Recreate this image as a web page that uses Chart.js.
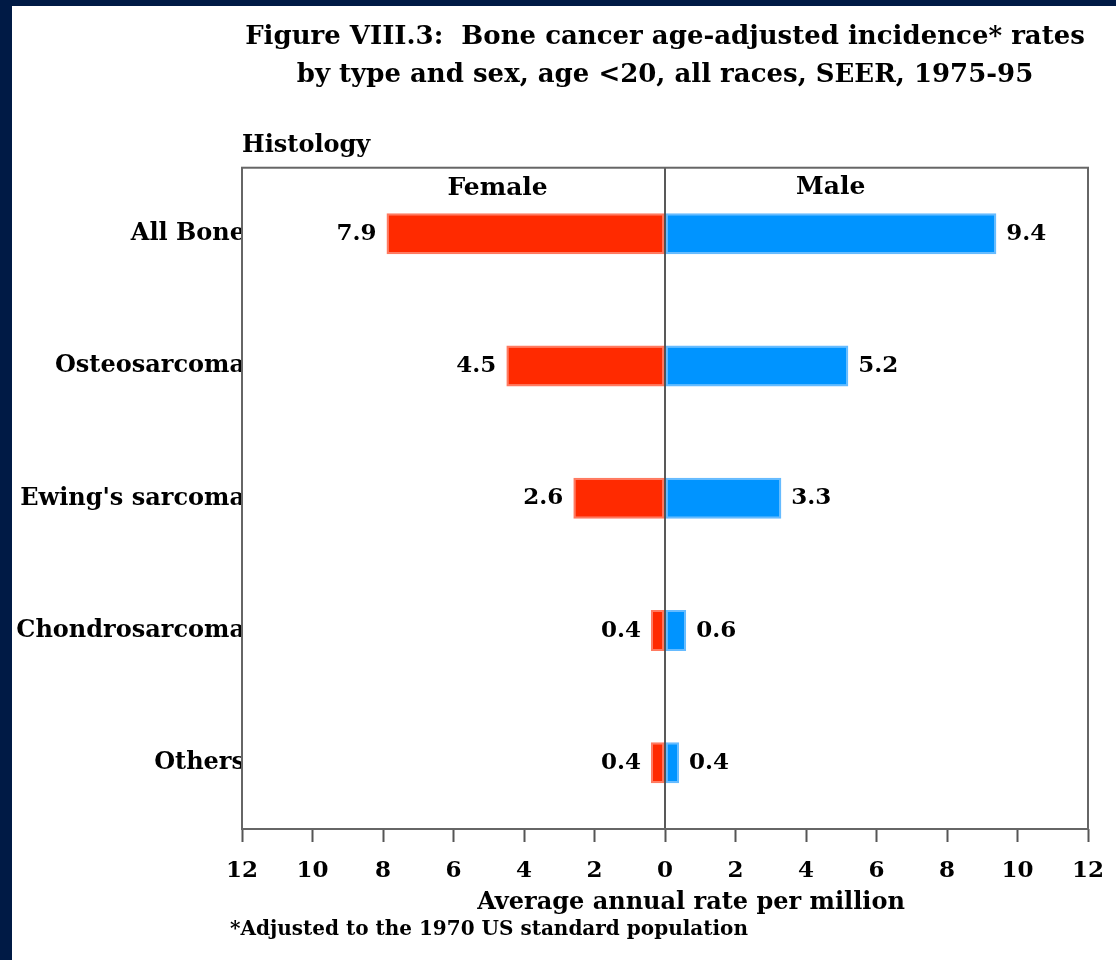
<!DOCTYPE html>
<html>
<head>
<meta charset="utf-8">
<script src="https://cdn.jsdelivr.net/npm/chart.js@4.4.0/dist/chart.umd.min.js"></script>
<style>
    body { margin: 0; background: #001a45; width: 1116px; height: 960px; overflow: hidden; }
    #wrap { position: absolute; left: 12px; top: 6px; width: 1104px; height: 954px; background: #fff; }
</style>
</head>
<body>
<div id="wrap"><canvas id="boneChart"></canvas></div>
<script>
// Data
const categories = ['All Bone', 'Osteosarcoma', "Ewing's sarcoma", 'Chondrosarcoma', 'Others'];
const femaleRates = [7.9, 4.5, 2.6, 0.4, 0.4];
const maleRates = [9.4, 5.2, 3.3, 0.6, 0.4];
const xTicks = [-12, -10, -8, -6, -4, -2, 0, 2, 4, 6, 8, 10, 12];

const FONT = "'DejaVu Serif', serif";

// Frame, sex headings, value labels, axis title and footnote
const decorPlugin = {
    id: 'decor',
    afterDatasetsDraw(chart) {
        const ctx = chart.ctx;
        const area = chart.chartArea;
        const xs = chart.scales.x;
        ctx.save();

        // zero line on top of bars
        ctx.strokeStyle = '#222';
        ctx.lineWidth = 1.5;
        ctx.beginPath();
        ctx.moveTo(xs.getPixelForValue(0), area.top);
        ctx.lineTo(xs.getPixelForValue(0), area.bottom);
        ctx.stroke();

        // frame
        ctx.strokeStyle = '#666';
        ctx.lineWidth = 2;
        ctx.strokeRect(area.left, area.top, area.right - area.left, area.bottom - area.top);

        ctx.fillStyle = '#000';
        ctx.font = 'bold 25px ' + FONT;
        ctx.textAlign = 'center';
        ctx.textBaseline = 'middle';
        ctx.fillText('Female', xs.getPixelForValue(-4.75), area.top + 21);
        ctx.fillText('Male', xs.getPixelForValue(4.7), area.top + 20);

        // value labels
        ctx.font = 'bold 23px ' + FONT;
        const fMeta = chart.getDatasetMeta(0);
        const mMeta = chart.getDatasetMeta(1);
        femaleRates.forEach((v, i) => {
            const bar = fMeta.data[i];
            ctx.textAlign = 'right';
            ctx.fillText(v.toFixed(1), bar.x - 10, bar.y);
        });
        maleRates.forEach((v, i) => {
            const bar = mMeta.data[i];
            ctx.textAlign = 'left';
            ctx.fillText(v.toFixed(1), bar.x + 10, bar.y);
        });

        // axis title (sits a little right of centre in the original)
        ctx.font = 'bold 24px ' + FONT;
        ctx.textAlign = 'center';
        ctx.fillText('Average annual rate per million', 679, 897);

        // footnote
        ctx.font = 'bold 20px ' + FONT;
        ctx.textAlign = 'left';
        ctx.fillText('*Adjusted to the 1970 US standard population', 218, 924);
        ctx.restore();
    }
};

const ctx = document.getElementById('boneChart').getContext('2d');
const boneChart = new Chart(ctx, {
    type: 'bar',
    data: {
        labels: categories,
        datasets: [{
            label: 'Female',
            data: femaleRates.map(v => -v),
            backgroundColor: '#ff2a00',
            borderColor: '#ff7a60',
            borderWidth: 2,
            borderSkipped: false
        }, {
            label: 'Male',
            data: maleRates,
            backgroundColor: '#0094ff',
            borderColor: '#66bbff',
            borderWidth: 2,
            borderSkipped: false
        }]
    },
    options: {
        indexAxis: 'y',
        responsive: true,
        maintainAspectRatio: false,
        animation: false,
        layout: { padding: { left: 0, right: 28, top: 0, bottom: 0 } },
        categoryPercentage: 1,
        barPercentage: 0.31,
        plugins: {
            legend: { display: false },
            tooltip: { enabled: false },
            title: {
                display: true,
                fullSize: false,
                text: ['Figure VIII.3:  Bone cancer age-adjusted incidence* rates',
                       'by type and sex, age <20, all races, SEER, 1975-95'],
                color: '#000',
                font: { family: FONT, size: 26, weight: 'bold', lineHeight: 1.46 },
                padding: { top: 12, bottom: 27 }
            },
            subtitle: {
                display: true,
                fullSize: false,
                align: 'start',
                text: 'Histology',
                color: '#000',
                font: { family: FONT, size: 24, weight: 'bold', lineHeight: 1.2 },
                padding: { top: 10, bottom: 8 }
            }
        },
        scales: {
            x: {
                stacked: true,
                min: -12,
                max: 12,
                afterBuildTicks(scale) {
                    scale.ticks = xTicks.map(v => ({ value: v }));
                },
                afterFit(scale) {
                    scale.height = 131;
                    scale.paddingLeft = 0;
                    scale.paddingRight = 0;
                },
                border: { display: false },
                grid: {
                    drawOnChartArea: false,
                    drawTicks: true,
                    tickLength: 13,
                    tickColor: '#555',
                    tickWidth: 2
                },
                ticks: {
                    padding: 15,
                    color: '#000',
                    font: { family: FONT, size: 23, weight: 'bold' },
                    callback: v => Math.abs(v)
                }
            },
            y: {
                stacked: true,
                afterFit(scale) { scale.width = 230; },
                border: { display: false },
                grid: { display: false },
                ticks: {
                    padding: -11,
                    color: '#000',
                    font: { family: FONT, size: 24, weight: 'bold' }
                }
            }
        }
    },
    plugins: [decorPlugin]
});
</script>
</body>
</html>
